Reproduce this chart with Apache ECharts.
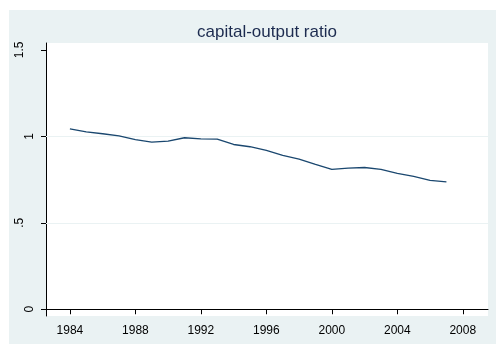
<!DOCTYPE html>
<html>
<head>
<meta charset="utf-8">
<script src="https://cdn.jsdelivr.net/npm/echarts@6/dist/echarts.min.js"></script>
<style>
  html, body { margin: 0; padding: 0; background: #ffffff; }
  #chart { width: 497px; height: 344px; }
</style>
</head>
<body>
<div id="chart"></div>
<script>
// Capital-output ratio by year
const years = [1984, 1985, 1986, 1987, 1988, 1989, 1990, 1991, 1992, 1993, 1994, 1995,
               1996, 1997, 1998, 1999, 2000, 2001, 2002, 2003, 2004, 2005, 2006, 2007];
const ratio = [1.043, 1.026, 1.015, 1.003, 0.981, 0.967, 0.972, 0.992, 0.986, 0.984, 0.953, 0.940,
               0.919, 0.890, 0.869, 0.838, 0.809, 0.816, 0.820, 0.809, 0.786, 0.768, 0.746, 0.737];

const xTicks = [1984, 1988, 1992, 1996, 2000, 2004, 2008];
const yTicks = [0, 0.5, 1, 1.5];
const yTickText = ['0', '.5', '1', '1.5'];
const yGrid = [0.5, 1];

const panel = '#eaf2f3';
const ink = '#000000';
const lineColor = '#1a476f';
const font = 'Liberation Sans, Arial, sans-serif';

const chart = echarts.init(document.getElementById('chart'), null, { renderer: 'canvas' });

chart.setOption({
  animation: false,
  backgroundColor: '#ffffff',
  textStyle: { fontFamily: font },
  graphic: [
    { type: 'rect', z: -100, shape: { x: 9, y: 10, width: 487, height: 334 }, style: { fill: panel } }
  ],
  title: {
    text: 'capital-output ratio',
    left: 267, top: 24, textAlign: 'center', padding: 0, z: 10,
    textStyle: { fontSize: 17, fontWeight: 'normal', color: '#1c2b4f', fontFamily: font }
  },
  grid: {
    left: 46, right: 9, top: 43, bottom: 28,
    show: true, backgroundColor: '#ffffff', borderWidth: 0
  },
  xAxis: {
    type: 'value',
    min: 1982.54, max: 2009.54,
    axisLine: { show: true, lineStyle: { color: ink, width: 1 } },
    axisTick: { show: true, length: 5, customValues: xTicks, lineStyle: { color: ink } },
    axisLabel: {
      customValues: xTicks, margin: 9, color: ink, fontSize: 12, fontFamily: font,
      formatter: v => String(v)
    },
    splitLine: { show: false }
  },
  yAxis: {
    type: 'value',
    min: -0.039, max: 1.54,
    axisLine: { show: true, lineStyle: { color: ink, width: 1 } },
    axisTick: { show: true, length: 5, customValues: yTicks, lineStyle: { color: ink } },
    axisLabel: {
      customValues: yTicks, rotate: 90, margin: 10, color: ink, fontSize: 12, fontFamily: font,
      formatter: function (v) {
        const i = yTicks.indexOf(v);
        const t = i >= 0 ? yTickText[i] : '';
        return t.length > 1 ? '{w|' + t + '}' : '{n|' + t + '}';
      },
      rich: {
        n: { fontSize: 12, color: ink, padding: [0, 0, 0, 0] },
        w: { fontSize: 12, color: ink, padding: [0, 0, 10, 0] }
      }
    },
    splitLine: { show: false }
  },
  series: [{
    type: 'line',
    data: years.map((y, i) => [y, ratio[i]]),
    symbol: 'none',
    lineStyle: { color: lineColor, width: 1.3 },
    z: 3,
    markLine: {
      silent: true,
      symbol: ['none', 'none'],
      label: { show: false },
      lineStyle: { color: panel, width: 1, type: 'solid' },
      z: 1,
      data: yGrid.map(v => ({ yAxis: v }))
    }
  }]
});
</script>
</body>
</html>
